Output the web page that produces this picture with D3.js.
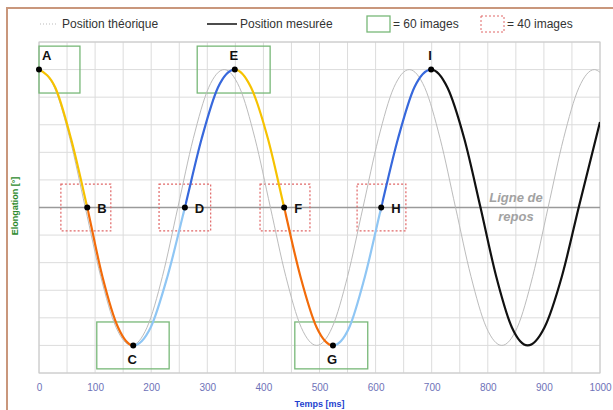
<!DOCTYPE html>
<html>
<head>
<meta charset="utf-8">
<script src="https://cdn.jsdelivr.net/npm/d3@7"></script>
<style>
  body { margin: 0; background: #fff; }
  text { font-family: "Liberation Sans", Arial, sans-serif; }
</style>
</head>
<body>
<svg id="target"></svg>
<script>
// theoretical position (thin grey)
const theoTime = [0, 27.5, 55, 82.5, 110, 137.5, 165, 192.5, 220, 247.5, 275, 302.5,
  330, 357.5, 385, 412.5, 440, 467.5, 495, 522.5, 550, 577.5, 605, 632.5,
  660, 687.5, 715, 742.5, 770, 797.5, 825, 852.5, 880, 907.5, 935, 962.5, 990, 1000];
const theoValue = [1, 0.87, 0.5, 0, -0.5, -0.87, -1, -0.87, -0.5, 0, 0.5, 0.87,
  1, 0.87, 0.5, 0, -0.5, -0.87, -1, -0.87, -0.5, 0, 0.5, 0.87,
  1, 0.87, 0.5, 0, -0.5, -0.87, -1, -0.87, -0.5, 0, 0.5, 0.87, 1, 0.98];

// measured position
const measTime = [0, 29, 57, 86, 113, 141, 168, 199, 229, 260, 290, 319,
  349, 378, 408, 437, 466, 495, 524, 553, 581, 610, 640, 669,
  699, 728, 758, 787, 815, 843, 871, 901, 932, 962, 1000];
const measValue = [1, 0.87, 0.5, 0, -0.5, -0.87, -1, -0.87, -0.5, 0, 0.5, 0.87,
  1, 0.87, 0.5, 0, -0.5, -0.87, -1, -0.87, -0.5, 0, 0.5, 0.87,
  1, 0.87, 0.5, 0, -0.5, -0.87, -1, -0.87, -0.5, 0, 0.62];

// key points
const keyLabels = ["A", "B", "C", "D", "E", "F", "G", "H", "I"];
const keyTimes = [0, 86, 168, 260, 349, 437, 524, 610, 699];
const keyValues = [1, 0, -1, 0, 1, 0, -1, 0, 1];

// image windows around A..H (ms)
const boxStart = [0, 39, 103, 214, 282, 394, 456, 567];
const boxEnd = [73, 128, 232, 306, 412, 483, 586, 654];

const xTicks = [0, 100, 200, 300, 400, 500, 600, 700, 800, 900, 1000];

const width = 613;
const height = 410;
const margin = {left: 39, right: 13, top: 42, bottom: 37};
const colors = {
  grid: '#dcdcdc',
  theo: '#bcbcbc',
  segs: ['#f6c200', '#f26b0a', '#8fc6f4', '#3768dc'],
  last: '#111',
  green: '#78b878',
  red: '#e06666',
  frame: '#c9977c'
};

const svg = d3.select('#target')
  .attr('width', width)
  .attr('height', height);

const x = d3.scaleLinear().domain([0, 1000]).range([margin.left, width - margin.right]);
const y = d3.scaleLinear().domain([-1.2, 1.2]).range([height - margin.bottom, margin.top]);

// outer frame
svg.append('path')
  .attr('d', `M7,${height} L7,8 L${width},8`)
  .attr('fill', 'none')
  .attr('stroke', colors.frame)
  .attr('stroke-width', 2);

// grid
svg.append('g').selectAll('line')
  .data(d3.range(0, 1001, 50))
  .enter().append('line')
    .attr('x1', d => x(d)).attr('x2', d => x(d))
    .attr('y1', y(1.2)).attr('y2', y(-1.2))
    .attr('stroke', colors.grid);

svg.append('g').selectAll('line')
  .data(d3.range(-6, 7).map(k => k * 0.2))
  .enter().append('line')
    .attr('x1', x(0)).attr('x2', x(1000))
    .attr('y1', d => y(d)).attr('y2', d => y(d))
    .attr('stroke', colors.grid);

svg.append('rect')
  .attr('x', x(0)).attr('y', y(1.2))
  .attr('width', x(1000) - x(0)).attr('height', y(-1.2) - y(1.2))
  .attr('fill', 'none')
  .attr('stroke', '#c8c8c8');

// rest line
svg.append('line')
  .attr('x1', x(0)).attr('x2', x(1000))
  .attr('y1', y(0)).attr('y2', y(0))
  .attr('stroke', '#9a9a9a')
  .attr('stroke-width', 1.3);

svg.append('text')
  .attr('x', 516).attr('y', y(0) - 6)
  .attr('text-anchor', 'middle')
  .attr('font-size', 13).attr('font-weight', 'bold').attr('font-style', 'italic')
  .attr('fill', '#a2a2a2')
  .text('Ligne de');
svg.append('text')
  .attr('x', 516).attr('y', y(0) + 13)
  .attr('text-anchor', 'middle')
  .attr('font-size', 13).attr('font-weight', 'bold').attr('font-style', 'italic')
  .attr('fill', '#a2a2a2')
  .text('repos');

// image boxes
svg.append('g').selectAll('rect')
  .data(boxStart.map((s, i) => ({s: s, e: boxEnd[i], v: keyValues[i], i: i})))
  .enter().append('rect')
    .attr('x', d => x(d.s))
    .attr('y', d => y(d.v + 0.17))
    .attr('width', d => x(d.e) - x(d.s))
    .attr('height', d => y(d.v - 0.17) - y(d.v + 0.17))
    .attr('fill', 'none')
    .attr('stroke', d => d.i % 2 === 0 ? colors.green : colors.red)
    .attr('stroke-width', d => d.i % 2 === 0 ? 1.3 : 1.2)
    .attr('stroke-dasharray', d => d.i % 2 === 0 ? null : '2,2');

// theoretical curve
const line = d3.line()
  .x(d => x(d[0]))
  .y(d => y(d[1]))
  .curve(d3.curveMonotoneX);

svg.append('path')
  .attr('d', line(theoTime.map((t, i) => [t, theoValue[i]])))
  .attr('fill', 'none')
  .attr('stroke', colors.theo)
  .attr('stroke-width', 1);

// measured curve, one clip per quarter
const measPath = line(measTime.map((t, i) => [t, measValue[i]]));
const bounds = keyTimes.concat([1000]);
const defs = svg.append('defs');

bounds.slice(0, -1).forEach((t0, i) => {
  const t1 = bounds[i + 1];
  defs.append('clipPath')
      .attr('id', 'seg-' + i)
    .append('rect')
      .attr('x', x(t0)).attr('y', 0)
      .attr('width', x(t1) - x(t0)).attr('height', height);
  svg.append('path')
    .attr('d', measPath)
    .attr('clip-path', 'url(#seg-' + i + ')')
    .attr('fill', 'none')
    .attr('stroke', i < 8 ? colors.segs[i % 4] : colors.last)
    .attr('stroke-width', 2.2);
});

// key points
svg.append('g').selectAll('circle')
  .data(keyTimes)
  .enter().append('circle')
    .attr('cx', d => x(d))
    .attr('cy', (d, i) => y(keyValues[i]))
    .attr('r', 3)
    .attr('fill', '#000');

svg.append('g').selectAll('text')
  .data(keyLabels)
  .enter().append('text')
    .attr('font-size', 13).attr('font-weight', 'bold')
    .attr('fill', '#111')
    .attr('text-anchor', (d, i) => i === 0 ? 'start' : (i % 2 === 0 ? 'middle' : 'start'))
    .attr('x', (d, i) => i === 0 ? x(keyTimes[i]) + 3 : (i % 2 === 0 ? x(keyTimes[i]) - 1 : x(keyTimes[i]) + 10))
    .attr('y', (d, i) => {
      const v = keyValues[i];
      if (v > 0) return y(v) - 10;
      if (v < 0) return y(v) + 19;
      return y(v) + 5;
    })
    .text(d => d);

// x axis
const xAxis = svg.append('g')
  .attr('transform', `translate(0,${y(-1.2)})`)
  .call(d3.axisBottom(x).tickValues(xTicks).tickFormat(d3.format('d')).tickSize(0).tickPadding(11));
xAxis.select('.domain').remove();
xAxis.selectAll('text')
  .attr('font-family', '"Liberation Sans", Arial, sans-serif')
  .attr('font-size', 10)
  .attr('fill', '#6e72b8');

svg.append('text')
  .attr('x', x(500)).attr('y', 407)
  .attr('text-anchor', 'middle')
  .attr('font-size', 9).attr('font-weight', 'bold')
  .attr('fill', '#1f3fcf')
  .text('Temps [ms]');

svg.append('text')
  .attr('transform', `translate(18,${206}) rotate(-90)`)
  .attr('text-anchor', 'middle')
  .attr('font-size', 9).attr('font-weight', 'bold')
  .attr('fill', '#2e8b2e')
  .text('Elongation [°]');

// legend
const legend = svg.append('g').attr('font-size', 12).attr('fill', '#333');
legend.append('line')
  .attr('x1', 40).attr('x2', 58).attr('y1', 24).attr('y2', 24)
  .attr('stroke', '#bbb').attr('stroke-dasharray', '1,2');
legend.append('text').attr('x', 62).attr('y', 28).text('Position théorique');
legend.append('line')
  .attr('x1', 207).attr('x2', 237).attr('y1', 24).attr('y2', 24)
  .attr('stroke', '#111').attr('stroke-width', 1.5);
legend.append('text').attr('x', 240).attr('y', 28).text('Position mesurée');
legend.append('rect')
  .attr('x', 367).attr('y', 16).attr('width', 23).attr('height', 16)
  .attr('fill', 'none').attr('stroke', colors.green).attr('stroke-width', 1.3);
legend.append('text').attr('x', 393).attr('y', 28).text('= 60 images');
legend.append('rect')
  .attr('x', 481).attr('y', 16).attr('width', 23).attr('height', 16)
  .attr('fill', 'none').attr('stroke', colors.red).attr('stroke-dasharray', '2,2');
legend.append('text').attr('x', 507).attr('y', 28).text('= 40 images');
</script>
</body>
</html>
